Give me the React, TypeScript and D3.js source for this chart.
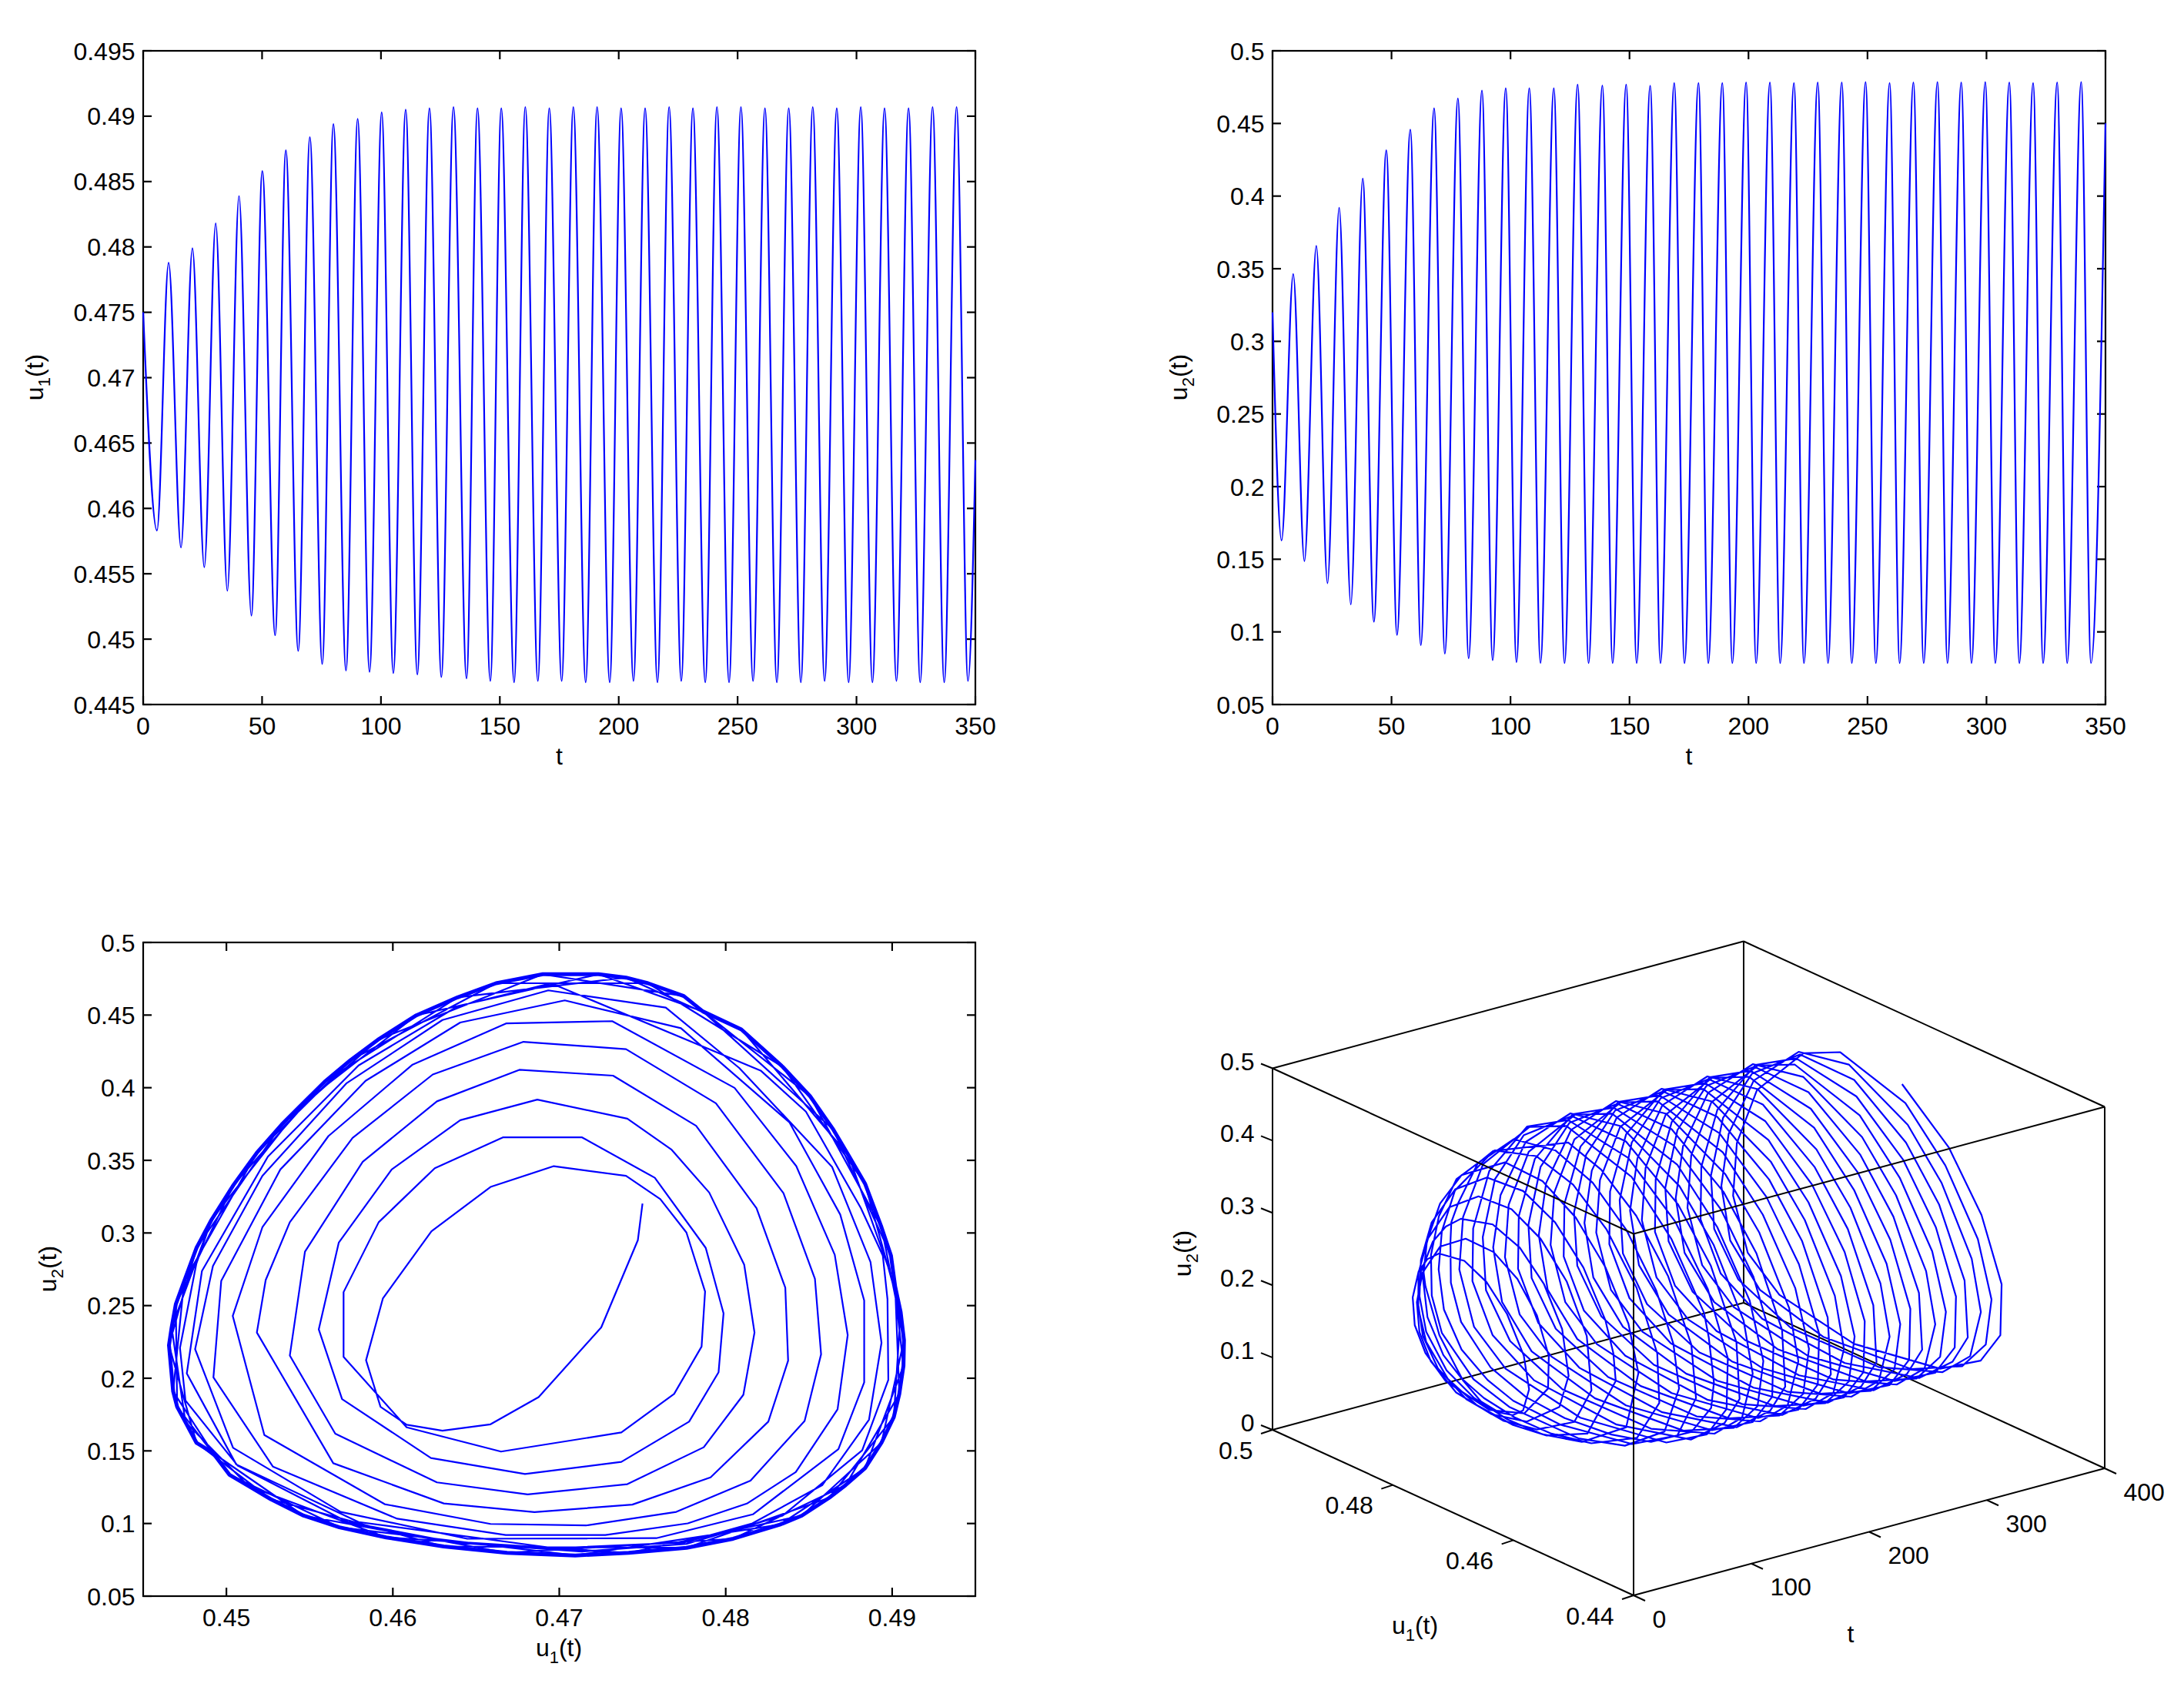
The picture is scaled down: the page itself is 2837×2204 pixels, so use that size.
import * as d3 from "d3";

const BLUE = "#0000ff";
const FONT = "'Liberation Sans', Arial, sans-serif";
const FONT_SIZE = 32;
const SUB_SIZE = 22;

// time series: turning points
const u1PeakT = [10.7, 20.7, 30.5, 40.3, 50.1, 60, 70.1, 80, 90.2, 100.3, 110.4, 120.4, 130.5, 140.6, 150.6, 160.7, 170.8, 180.9, 190.9, 201, 211.1, 221.2, 231.2, 241.3, 251.4, 261.5, 271.5, 281.6, 291.7, 301.8, 311.8, 321.9, 332, 342.1];
const u1PeakV = [0.4788, 0.4799, 0.4818, 0.4839, 0.4858, 0.4874, 0.4884, 0.4894, 0.4898, 0.4903, 0.4905, 0.4906, 0.4907, 0.4906, 0.4906, 0.4907, 0.4906, 0.4907, 0.4907, 0.4906, 0.4906, 0.4907, 0.4906, 0.4907, 0.4907, 0.4906, 0.4906, 0.4907, 0.4906, 0.4907, 0.4906, 0.4906, 0.4907, 0.4907];
const u1TroughT = [5.8, 15.9, 25.7, 35.4, 45.5, 55.5, 65.2, 75.3, 85.3, 95.2, 105.2, 115.3, 125.4, 136, 146, 156, 166, 176, 186.1, 196.2, 206.2, 216.3, 226.3, 236.4, 246.4, 256.5, 266.5, 276.6, 286.6, 296.7, 306.7, 316.8, 326.8, 336.9, 346.9];
const u1TroughV = [0.4583, 0.457, 0.4555, 0.4537, 0.4518, 0.4503, 0.4491, 0.4481, 0.4476, 0.4475, 0.4474, 0.4473, 0.4471, 0.447, 0.4468, 0.4467, 0.4468, 0.4468, 0.4467, 0.4467, 0.4468, 0.4467, 0.4468, 0.4467, 0.4467, 0.4468, 0.4467, 0.4467, 0.4468, 0.4467, 0.4467, 0.4468, 0.4467, 0.4467, 0.4468];
const u1Ends: [number, number][] = [[0, 0.475], [350, 0.4637]];

const u2PeakT = [8.7, 18.4, 28, 37.9, 47.8, 57.9, 67.9, 77.9, 88, 98, 107.9, 118.2, 128.2, 138.6, 148.6, 158.7, 168.8, 179, 189, 199, 209, 219.1, 229.1, 239.2, 249.2, 259.3, 269.3, 279.4, 289.4, 299.5, 309.6, 319.6, 329.7, 339.8];
const u2PeakV = [0.3464, 0.3657, 0.3919, 0.4121, 0.4316, 0.4458, 0.4604, 0.4672, 0.4727, 0.4742, 0.4742, 0.4742, 0.4767, 0.4761, 0.4767, 0.476, 0.4778, 0.4778, 0.4778, 0.4782, 0.4782, 0.4778, 0.4782, 0.4782, 0.4785, 0.4778, 0.4782, 0.4785, 0.4782, 0.4785, 0.4782, 0.4778, 0.4782, 0.4785];
const u2TroughT = [3.8, 13.4, 23.1, 32.9, 42.6, 52.3, 62.3, 72.4, 82.4, 92.5, 102.5, 112.6, 122.7, 132.8, 142.9, 153, 163, 173.1, 183.1, 193.2, 203.2, 213.3, 223.3, 233.4, 243.4, 253.5, 263.5, 273.6, 283.6, 293.7, 303.7, 313.8, 323.8, 333.9, 343.9];
const u2TroughV = [0.1629, 0.1487, 0.1335, 0.1189, 0.107, 0.0979, 0.0909, 0.085, 0.0818, 0.0805, 0.0792, 0.0786, 0.0785, 0.0785, 0.0785, 0.0785, 0.0785, 0.0785, 0.0785, 0.0785, 0.0785, 0.0785, 0.0785, 0.0785, 0.0785, 0.0785, 0.0785, 0.0785, 0.0785, 0.0785, 0.0785, 0.0785, 0.0785, 0.0785, 0.0785];
const u2Ends: [number, number][] = [[0, 0.32], [350, 0.45]];

// phase plane: the vertices of the first ten turns of the spiral
const spiralU1 = [
  0.475, 0.47472, 0.47252, 0.46876, 0.46587, 0.46298, 0.46083, 0.45926, 0.45839, 0.4594, 0.46232, 0.46587, 0.46967, 0.47401, 0.47607, 0.47764, 0.47876, 0.47855, 0.4769, 0.47373,
  0.4665, 0.46083, 0.45704, 0.45704, 0.45915, 0.46252, 0.46661, 0.47137, 0.47574, 0.4788, 0.47987, 0.47957, 0.4778, 0.47373, 0.46794, 0.46229, 0.45695, 0.45555, 0.45675, 0.45993,
  0.46405, 0.46868, 0.47409, 0.47673, 0.47901, 0.48111, 0.48173, 0.48106, 0.47868, 0.47409, 0.4681, 0.46265, 0.45654, 0.45381, 0.45472, 0.45819, 0.46265, 0.4676, 0.47323, 0.47822,
  0.48185, 0.48358, 0.48375, 0.48256, 0.47909, 0.47439, 0.46851, 0.46306, 0.45642, 0.45183, 0.45236, 0.45381, 0.45758, 0.4624, 0.46785, 0.47401, 0.47941, 0.48347, 0.48536, 0.48573,
  0.48474, 0.48149, 0.47703, 0.47162, 0.46587, 0.45951, 0.45228, 0.45038, 0.45216, 0.45613, 0.46116, 0.46683, 0.47318, 0.48053, 0.48424, 0.48655, 0.48733, 0.48672, 0.48421, 0.48127,
  0.47772, 0.47277, 0.46678, 0.46026, 0.45279, 0.44922, 0.44969, 0.45324, 0.45836, 0.46405, 0.47033, 0.47731, 0.48383, 0.48688, 0.48832, 0.48832, 0.48677, 0.48163, 0.47583, 0.46447,
  0.45687, 0.4504, 0.44812, 0.44919, 0.45216, 0.4572, 0.46298, 0.46934, 0.4764, 0.48081, 0.48639, 0.4887, 0.48936, 0.48861, 0.48581, 0.4816, 0.47748, 0.46972, 0.45794, 0.45059,
  0.44762, 0.44853, 0.45249, 0.45794, 0.46389, 0.4695, 0.4821, 0.48482, 0.48812, 0.48944, 0.48972, 0.48977, 0.4882, 0.48342, 0.47764, 0.47137, 0.46372, 0.45728, 0.45068, 0.44754,
  0.44721, 0.4482,
];
const spiralU2 = [
  0.3202, 0.295, 0.235, 0.187, 0.1683, 0.1639, 0.168, 0.1803, 0.2124, 0.2549, 0.3012, 0.3317, 0.346, 0.3393, 0.3233, 0.3003, 0.2597, 0.2218, 0.1892, 0.1627,
  0.1495, 0.1662, 0.2147, 0.2593, 0.3074, 0.3446, 0.3658, 0.3658, 0.338, 0.2897, 0.2447, 0.2041, 0.1701, 0.1424, 0.1341, 0.1451, 0.1856, 0.2336, 0.2933, 0.3437,
  0.3776, 0.3918, 0.3787, 0.3575, 0.3278, 0.2782, 0.2315, 0.1886, 0.1525, 0.1271, 0.12, 0.1283, 0.1618, 0.2156, 0.2871, 0.349, 0.3906, 0.4123, 0.4083, 0.3738,
  0.3171, 0.2623, 0.2121, 0.1701, 0.1318, 0.113, 0.1078, 0.1138, 0.1415, 0.2315, 0.2676, 0.3074, 0.3654, 0.4091, 0.4316, 0.4265, 0.3893, 0.3274, 0.2685, 0.2165,
  0.1706, 0.1295, 0.108, 0.0987, 0.0997, 0.1133, 0.1609, 0.2429, 0.3039, 0.3667, 0.4157, 0.4443, 0.4458, 0.3999, 0.346, 0.285, 0.2297, 0.1786, 0.1354, 0.1137,
  0.1001, 0.0921, 0.0921, 0.1033, 0.1392, 0.2006, 0.2671, 0.3437, 0.4047, 0.4449, 0.4601, 0.441, 0.3761, 0.3127, 0.2535, 0.1971, 0.1512, 0.1063, 0.0899, 0.0895,
  0.108, 0.1521, 0.22, 0.2773, 0.3393, 0.4029, 0.4466, 0.467, 0.4551, 0.4136, 0.3455, 0.28, 0.2244, 0.1715, 0.1265, 0.1001, 0.0869, 0.083, 0.101, 0.1407,
  0.2033, 0.2738, 0.3525, 0.4153, 0.456, 0.4719, 0.4118, 0.3835, 0.3171, 0.2844, 0.2544, 0.1989, 0.1504, 0.1054, 0.086, 0.0807, 0.0869, 0.101, 0.1398, 0.1847,
  0.2209, 0.2791,
];

// the settled orbit, traced once clockwise around the outer edge of the thick band
const orbitU1 = [
  0.44746, 0.4482, 0.44911, 0.45043, 0.45183, 0.45332, 0.45464, 0.45596, 0.45745, 0.4591, 0.46141, 0.46389, 0.4662, 0.46901, 0.47236, 0.47401, 0.47533, 0.47748, 0.47863, 0.48094,
  0.48342, 0.48507, 0.48647, 0.48738, 0.48837, 0.48936, 0.48993, 0.49018, 0.49051, 0.49071, 0.49068, 0.49043, 0.4901, 0.48936, 0.48837, 0.48721, 0.48622, 0.48457, 0.48325, 0.48045,
  0.47764, 0.47417, 0.47096, 0.46686, 0.46306, 0.4596, 0.45679, 0.45464, 0.45266, 0.45134, 0.45018, 0.44919, 0.4482, 0.44754, 0.44704, 0.4468, 0.44655, 0.44671, 0.44696,
];
const orbitU2 = [
  0.2667, 0.2897, 0.3092, 0.3331, 0.3552, 0.3746, 0.3897, 0.4047, 0.4189, 0.433, 0.4498, 0.4622, 0.4719, 0.4781, 0.4781, 0.4758, 0.4719, 0.4631, 0.4525, 0.4401,
  0.4144, 0.3941, 0.3711, 0.3534, 0.334, 0.3039, 0.2844, 0.2632, 0.2456, 0.2262, 0.2086, 0.1892, 0.1733, 0.1556, 0.138, 0.1265, 0.1177, 0.1054, 0.0992, 0.0895,
  0.0833, 0.0798, 0.078, 0.0798, 0.0842, 0.0904, 0.0974, 0.1054, 0.1168, 0.1257, 0.1336, 0.1486, 0.1556, 0.1698, 0.1803, 0.1909, 0.2227, 0.235, 0.2509,
];

// tick values
const xTicks2D = [0, 50, 100, 150, 200, 250, 300, 350];
const u1Ticks = [0.445, 0.45, 0.455, 0.46, 0.465, 0.47, 0.475, 0.48, 0.485, 0.49, 0.495];
const u2Ticks = [0.05, 0.1, 0.15, 0.2, 0.25, 0.3, 0.35, 0.4, 0.45, 0.5];
const phaseXTicks = [0.45, 0.46, 0.47, 0.48, 0.49];
const boxU2Ticks = [0, 0.1, 0.2, 0.3, 0.4, 0.5];
const boxU1Ticks = [0.44, 0.46, 0.48, 0.5];
const boxTTicks = [0, 100, 200, 300, 400];

// every sample of the settled part steps 4 entries along the traced orbit
const settled = d3.range(372).map((k) => (2 + 4 * k) % orbitU1.length);
const trajU1 = [...spiralU1, ...settled.map((i) => orbitU1[i])];
const trajU2 = [...spiralU2, ...settled.map((i) => orbitU2[i])];
const trajT = d3.scaleLinear().domain([0, trajU1.length - 1]).range([0, 350]);

const turningPoints = (
  peakT: number[], peakV: number[], troughT: number[], troughV: number[], ends: [number, number][]
) => {
  const pts: [number, number][] = [
    ...ends,
    ...peakT.map((t, i): [number, number] => [t, peakV[i]]),
    ...troughT.map((t, i): [number, number] => [t, troughV[i]]),
  ];
  return pts.sort((a, b) => a[0] - b[0]);
};

type Scale = d3.ScaleLinear<number, number>;

const Label = ({ x, y, sub, rotate, anchor = "middle" }: { x: number; y: number; sub: string; rotate?: boolean; anchor?: string }) => (
  <text
    transform={`translate(${x},${y})${rotate ? " rotate(-90)" : ""}`}
    textAnchor={anchor}
    fontSize={FONT_SIZE}
    fontFamily={FONT}
    fill="#000"
  >
    u
    <tspan dy={9} fontSize={SUB_SIZE}>{sub}</tspan>
    <tspan dy={-9}>(t)</tspan>
  </text>
);

const Tx = ({ x, y, anchor, children }: { x: number; y: number; anchor: string; children: any }) => (
  <text x={x} y={y} textAnchor={anchor} fontSize={FONT_SIZE} fontFamily={FONT} fill="#000">
    {children}
  </text>
);

const Axes = ({ x, y, xt, yt }: { x: Scale; y: Scale; xt: number[]; yt: number[] }) => {
  const [l, r] = x.range();
  const [b, t] = y.range();
  return (
    <g stroke="#000" strokeWidth={2.2}>
      <rect x={l} y={t} width={r - l} height={b - t} fill="none" />
      {xt.map((v) => (
        <g key={v}>
          <line x1={x(v)} x2={x(v)} y1={b} y2={b - 11} />
          <line x1={x(v)} x2={x(v)} y1={t} y2={t + 11} />
          <g stroke="none">
            <Tx x={x(v)} y={b + 39} anchor="middle">{v}</Tx>
          </g>
        </g>
      ))}
      {yt.map((v) => (
        <g key={v}>
          <line x1={l} x2={l + 11} y1={y(v)} y2={y(v)} />
          <line x1={r} x2={r - 11} y1={y(v)} y2={y(v)} />
          <g stroke="none">
            <Tx x={l - 10.5} y={y(v) + 11.5} anchor="end">{v}</Tx>
          </g>
        </g>
      ))}
    </g>
  );
};

const SeriesPanel = ({ left, right, domain, ticks, pts, sub, labelX }: {
  left: number; right: number; domain: [number, number]; ticks: number[]; pts: [number, number][]; sub: string; labelX: number;
}) => {
  const x = d3.scaleLinear().domain([0, 350]).range([left, right]);
  const y = d3.scaleLinear().domain(domain).range([915, 66]);
  const path = d3.line<[number, number]>().x((d) => x(d[0])).y((d) => y(d[1])).curve(d3.curveMonotoneX);
  return (
    <g>
      <Axes x={x} y={y} xt={xTicks2D} yt={ticks} />
      <path d={path(pts) ?? ""} fill="none" stroke={BLUE} strokeWidth={2.2} />
      <Tx x={(left + right) / 2} y={993} anchor="middle">t</Tx>
      <Label x={labelX} y={490} sub={sub} rotate />
    </g>
  );
};

const PhasePanel = () => {
  const x = d3.scaleLinear().domain([0.445, 0.495]).range([186, 1267]);
  const y = d3.scaleLinear().domain([0.05, 0.5]).range([2073, 1224]);
  const path = d3.line<number>().x((d) => x(d)).y((_, i) => y(trajU2[i]));
  // many turns overlap along the settled orbit, so it reads as one solid band
  const band = d3.line<number>().x((d) => x(d)).y((_, i) => y(orbitU2[i])).curve(d3.curveLinearClosed);
  return (
    <g>
      <Axes x={x} y={y} xt={phaseXTicks} yt={u2Ticks} />
      <path d={band(orbitU1) ?? ""} fill="none" stroke={BLUE} strokeWidth={5} strokeLinejoin="round" />
      <path d={path(trajU1) ?? ""} fill="none" stroke={BLUE} strokeWidth={2.2} strokeLinejoin="round" />
      <Label x={726} y={2151} sub="1" />
      <Label x={73} y={1648} sub="2" rotate />
    </g>
  );
};

// MATLAB style box: three axis directions, each one a pair of scales to pixel offsets
const tToX = d3.scaleLinear().domain([0, 400]).range([0, 612]);
const tToY = d3.scaleLinear().domain([0, 400]).range([0, -165]);
const u1ToX = d3.scaleLinear().domain([0.44, 0.5]).range([0, -469]);
const u1ToY = d3.scaleLinear().domain([0.44, 0.5]).range([0, -215]);
const u2ToY = d3.scaleLinear().domain([0, 0.5]).range([0, -469.5]);
const px = (t: number, u1: number) => 2122 + tToX(t) + u1ToX(u1);
const py = (t: number, u1: number, u2: number) => 2072 + tToY(t) + u1ToY(u1) + u2ToY(u2);

const BoxPanel = () => {
  const edge = (a: number[], b: number[], key: string) => (
    <line key={key} x1={px(a[0], a[1])} y1={py(a[0], a[1], a[2])} x2={px(b[0], b[1])} y2={py(b[0], b[1], b[2])} />
  );
  const path = d3.line<number>().x((d, i) => px(trajT(i), d)).y((d, i) => py(trajT(i), d, trajU2[i]));
  return (
    <g>
      <g stroke="#000" strokeWidth={2}>
        {edge([400, 0.5, 0], [400, 0.5, 0.5], "b1")}
        {edge([0, 0.5, 0], [400, 0.5, 0], "b2")}
        {edge([400, 0.44, 0], [400, 0.5, 0], "b3")}
        {edge([400, 0.5, 0.5], [0, 0.5, 0.5], "b4")}
        {edge([400, 0.5, 0.5], [400, 0.44, 0.5], "b5")}
      </g>
      <path d={path(trajU1) ?? ""} fill="none" stroke={BLUE} strokeWidth={2.2} strokeLinejoin="round" />
      <g stroke="#000" strokeWidth={2}>
        {edge([0, 0.44, 0], [0, 0.44, 0.5], "f1")}
        {edge([0, 0.5, 0], [0, 0.5, 0.5], "f2")}
        {edge([400, 0.44, 0], [400, 0.44, 0.5], "f3")}
        {edge([0, 0.44, 0.5], [0, 0.5, 0.5], "f4")}
        {edge([0, 0.44, 0.5], [400, 0.44, 0.5], "f5")}
        {edge([0, 0.44, 0], [0, 0.5, 0], "f6")}
        {edge([0, 0.44, 0], [400, 0.44, 0], "f7")}
        {boxU2Ticks.map((v) => (
          <line key={v} x1={px(0, 0.5)} y1={py(0, 0.5, v)} x2={px(0, 0.5) - 15} y2={py(0, 0.5, v) - 6} />
        ))}
        {boxU1Ticks.map((v) => (
          <line key={v} x1={px(0, v)} y1={py(0, v, 0)} x2={px(0, v) - 15} y2={py(0, v, 0) + 5} />
        ))}
        {boxTTicks.map((v) => (
          <line key={v} x1={px(v, 0.44)} y1={py(v, 0.44, 0)} x2={px(v, 0.44) + 15} y2={py(v, 0.44, 0) + 7} />
        ))}
      </g>
      {boxU2Ticks.map((v) => (
        <Tx key={v} x={1629.5} y={py(0, 0.5, v) - 9.5 + 11.5} anchor="end">{v}</Tx>
      ))}
      {boxU1Ticks.map((v) => (
        <Tx key={v} x={px(0, v) - 25.5} y={py(0, v, 0) + 26 + 11.5} anchor="end">{v}</Tx>
      ))}
      {boxTTicks.map((v) => (
        <Tx key={v} x={px(v, 0.44) + 24.5} y={py(v, 0.44, 0) + 30 + 11.5} anchor="start">{v}</Tx>
      ))}
      <Tx x={2404} y={2133} anchor="middle">t</Tx>
      <Label x={1838} y={2122} sub="1" />
      <Label x={1547} y={1628} sub="2" rotate />
    </g>
  );
};

export default function App() {
  return (
    <svg
      width={2837}
      height={2204}
      style={{ position: "absolute", left: 0, top: 0, background: "#fff" }}
    >
      <SeriesPanel
        left={186}
        right={1267}
        domain={[0.445, 0.495]}
        ticks={u1Ticks}
        pts={turningPoints(u1PeakT, u1PeakV, u1TroughT, u1TroughV, u1Ends)}
        sub="1"
        labelX={56}
      />
      <SeriesPanel
        left={1653}
        right={2735}
        domain={[0.05, 0.5]}
        ticks={u2Ticks}
        pts={turningPoints(u2PeakT, u2PeakV, u2TroughT, u2TroughV, u2Ends)}
        sub="2"
        labelX={1542}
      />
      <PhasePanel />
      <BoxPanel />
    </svg>
  );
}
